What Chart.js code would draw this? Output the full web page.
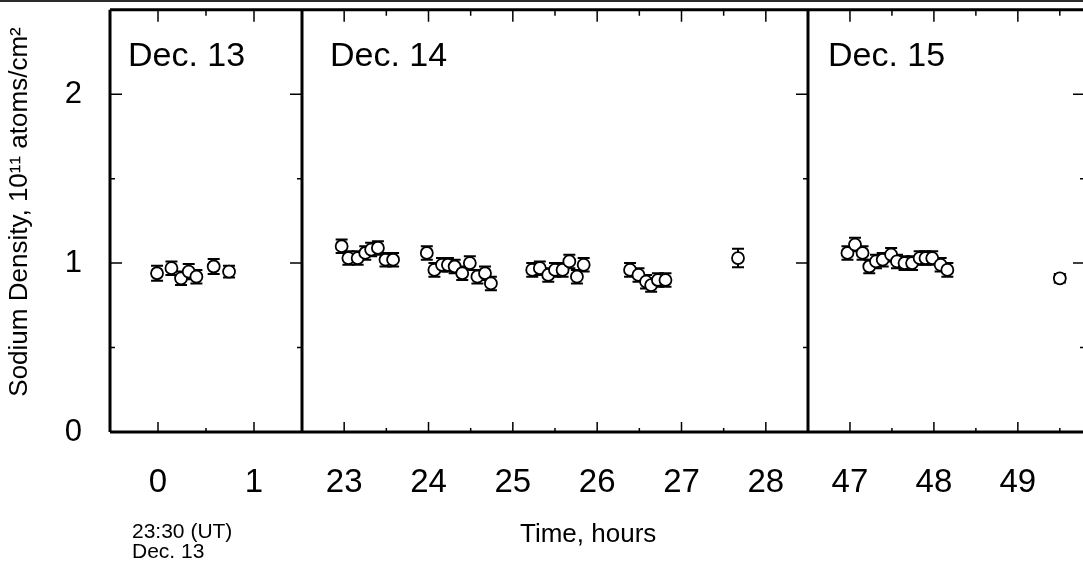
<!DOCTYPE html>
<html>
<head>
<meta charset="utf-8">
<title>Sodium Density</title>
<script src="https://cdn.jsdelivr.net/npm/chart.js@4.4.1/dist/chart.umd.min.js"></script>
<style>
    html, body { margin: 0; padding: 0; background: #fff; overflow: hidden; }
    #wrap { width: 1100px; height: 580px; border-top: 2px solid #2b2b2b; box-sizing: border-box; }
</style>
</head>
<body>
<div id="wrap"><canvas id="densityChart" width="1100" height="578"></canvas></div>
<script>
// Dec. 13 (hours after 23:30 UT, Dec. 13)
const hours13 = [-0.01, 0.14, 0.24, 0.32, 0.40, 0.58, 0.74];
const density13 = [0.94, 0.97, 0.91, 0.95, 0.92, 0.98, 0.95];
const error13 = [0.045, 0.04, 0.04, 0.045, 0.04, 0.045, 0.035];

// Dec. 14
const hours14 = [22.97, 23.05, 23.16, 23.25, 23.32, 23.40, 23.49, 23.58,
    23.98, 24.07, 24.16, 24.23, 24.31, 24.40, 24.49, 24.58, 24.67, 24.74,
    25.23, 25.32, 25.42, 25.50, 25.59, 25.67, 25.76, 25.84,
    26.39, 26.49, 26.58, 26.64, 26.72, 26.81,
    27.67];
const density14 = [1.10, 1.03, 1.03, 1.06, 1.08, 1.09, 1.02, 1.02,
    1.06, 0.96, 0.99, 0.99, 0.98, 0.94, 1.00, 0.92, 0.94, 0.88,
    0.96, 0.97, 0.93, 0.96, 0.96, 1.01, 0.92, 0.99,
    0.96, 0.93, 0.89, 0.87, 0.90, 0.90,
    1.03];
const error14 = [0.04, 0.04, 0.04, 0.04, 0.04, 0.04, 0.04, 0.04,
    0.04, 0.04, 0.04, 0.04, 0.04, 0.04, 0.04, 0.04, 0.04, 0.04,
    0.04, 0.04, 0.04, 0.04, 0.04, 0.04, 0.04, 0.04,
    0.04, 0.04, 0.04, 0.04, 0.04, 0.04,
    0.055];

// Dec. 15
const hours15 = [46.97, 47.06, 47.15, 47.23, 47.31, 47.39, 47.49, 47.56, 47.65, 47.74,
    47.83, 47.90, 47.98, 48.08, 48.16, 49.50];
const density15 = [1.06, 1.11, 1.06, 0.98, 1.01, 1.02, 1.05, 1.01, 1.00, 1.00,
    1.03, 1.03, 1.03, 0.99, 0.96, 0.91];
const error15 = [0.04, 0.04, 0.04, 0.04, 0.04, 0.04, 0.04, 0.04, 0.04, 0.04,
    0.04, 0.04, 0.04, 0.04, 0.04, 0.025];

// Axes
const panelNames = ['Dec. 13', 'Dec. 14', 'Dec. 15'];
const xTicks13 = [0, 1];
const xTicks14 = [23, 24, 25, 26, 27, 28];
const xTicks15 = [47, 48, 49];
const yTicks = [0, 1, 2];

const FONT = "'Liberation Sans', Arial, sans-serif";
Chart.defaults.font.family = FONT;
Chart.defaults.color = '#000';

function makeSet(hours, density, errors, axisId) {
    return {
        type: 'scatter',
        data: hours.map((h, i) => ({ x: h, y: density[i] })),
        errors: errors,
        xAxisID: axisId,
        yAxisID: 'y',
        pointStyle: 'circle',
        pointRadius: 6,
        pointHoverRadius: 6,
        pointBackgroundColor: '#fff',
        pointBorderColor: '#000',
        pointBorderWidth: 1.8,
        showLine: false
    };
}

function xScale(min, max, ticks, weight) {
    return {
        type: 'linear',
        position: 'bottom',
        stack: 'time',
        stackWeight: weight,
        min: min,
        max: max,
        grid: { display: false, drawTicks: false },
        border: { display: false },
        ticks: { padding: 31, font: { size: 33 }, color: '#000' },
        afterBuildTicks: scale => { scale.ticks = ticks.map(v => ({ value: v })); },
        afterFit: scale => {
            scale.height = 148;
            scale.paddingLeft = 0; scale.paddingRight = 0;
            scale.paddingTop = 0; scale.paddingBottom = 0;
        }
    };
}

// Frame with inward tick marks + error bars, drawn under the circles
const framePlugin = {
    id: 'framePlugin',
    beforeDatasetsDraw(chart) {
        const ctx = chart.ctx;
        const area = chart.chartArea;
        const y = chart.scales.y;
        const panels = [
            { s: chart.scales.x1, t: xTicks13 },
            { s: chart.scales.x2, t: xTicks14 },
            { s: chart.scales.x3, t: xTicks15 }
        ];
        ctx.save();
        ctx.strokeStyle = '#000';

        // error bars
        ctx.lineWidth = 2;
        chart.data.datasets.forEach((ds, di) => {
            const meta = chart.getDatasetMeta(di);
            meta.data.forEach((pt, i) => {
                const v = ds.data[i].y;
                const e = ds.errors[i];
                const y1 = y.getPixelForValue(v + e);
                const y2 = y.getPixelForValue(v - e);
                ctx.beginPath();
                ctx.moveTo(pt.x, y1); ctx.lineTo(pt.x, y2);
                ctx.moveTo(pt.x - 6, y1); ctx.lineTo(pt.x + 6, y1);
                ctx.moveTo(pt.x - 6, y2); ctx.lineTo(pt.x + 6, y2);
                ctx.stroke();
            });
        });

        // tick marks
        ctx.lineWidth = 1.5;
        ctx.beginPath();
        panels.forEach((p, idx) => {
            const s = p.s;
            const minors = [];
            p.t.forEach(v => {
                [v - 0.5, v + 0.5].forEach(m => {
                    if (m > s.min && m < s.max && !minors.includes(m)) minors.push(m);
                });
            });
            p.t.forEach(v => {
                const px = s.getPixelForValue(v);
                ctx.moveTo(px, area.top); ctx.lineTo(px, area.top + 12);
                ctx.moveTo(px, area.bottom); ctx.lineTo(px, area.bottom - 10);
            });
            minors.forEach(v => {
                const px = s.getPixelForValue(v);
                ctx.moveTo(px, area.top); ctx.lineTo(px, area.top + 6);
                ctx.moveTo(px, area.bottom); ctx.lineTo(px, area.bottom - 4);
            });
            // y ticks pointing inward from the right edge of each panel
            const sides = idx === 0 ? [[s.left, 1], [s.right, -1]] : [[s.right, -1]];
            sides.forEach(([edge, dir]) => {
                yTicks.forEach(v => {
                    const py = y.getPixelForValue(v);
                    ctx.moveTo(edge, py); ctx.lineTo(edge + dir * 12, py);
                    const pm = y.getPixelForValue(v + 0.5);
                    if (pm > area.top + 1) {
                        ctx.moveTo(edge, pm); ctx.lineTo(edge + dir * 5, pm);
                    }
                });
            });
        });
        ctx.stroke();

        // frame
        ctx.lineWidth = 3;
        ctx.beginPath();
        ctx.moveTo(area.left, area.top); ctx.lineTo(area.right, area.top);
        ctx.moveTo(area.left, area.bottom); ctx.lineTo(area.right, area.bottom);
        panels.forEach(p => {
            ctx.moveTo(p.s.left, area.top); ctx.lineTo(p.s.left, area.bottom);
        });
        ctx.moveTo(area.right, area.top); ctx.lineTo(area.right, area.bottom);
        ctx.stroke();
        ctx.restore();
    },
    afterDraw(chart) {
        const ctx = chart.ctx;
        const area = chart.chartArea;
        const panels = [chart.scales.x1, chart.scales.x2, chart.scales.x3];
        const insets = [18, 28, 20];
        ctx.save();
        ctx.fillStyle = '#000';
        ctx.textBaseline = 'alphabetic';
        ctx.textAlign = 'left';
        ctx.font = '34px ' + FONT;
        panels.forEach((s, i) => ctx.fillText(panelNames[i], s.left + insets[i], area.top + 56));

        ctx.font = '26px ' + FONT;
        ctx.fillText('Time, hours', 520, area.bottom + 110);

        ctx.font = '21px ' + FONT;
        ctx.fillText('23:30 (UT)', 132, area.bottom + 106);
        ctx.fillText('Dec. 13', 132, area.bottom + 126);

        // y axis title
        ctx.translate(27, 210);
        ctx.rotate(-Math.PI / 2);
        ctx.textAlign = 'center';
        ctx.font = '26px ' + FONT;
        ctx.fillText('Sodium Density, 10\u00B9\u00B9 atoms/cm\u00B2', 0, 0);
        ctx.restore();
    }
};

const chart = new Chart(document.getElementById('densityChart'), {
    type: 'scatter',
    data: {
        datasets: [
            makeSet(hours13, density13, error13, 'x1'),
            makeSet(hours14, density14, error14, 'x2'),
            makeSet(hours15, density15, error15, 'x3')
        ]
    },
    options: {
        responsive: false,
        animation: false,
        layout: { padding: { top: 5, right: 15, left: 0, bottom: 0 } },
        plugins: {
            legend: { display: false },
            tooltip: { enabled: false }
        },
        scales: {
            x1: xScale(-0.5, 1.5, xTicks13, 192),
            x2: xScale(22.5, 28.5, xTicks14, 506),
            x3: xScale(46.5, 49.8, xTicks15, 277),
            y: {
                type: 'linear',
                position: 'left',
                min: 0,
                max: 2.5,
                grid: { display: false, drawTicks: false },
                border: { display: false },
                ticks: { padding: 28, font: { size: 31 }, color: '#000' },
                afterBuildTicks: scale => { scale.ticks = yTicks.map(v => ({ value: v })); },
                afterFit: scale => {
                    scale.width = 110;
                    scale.paddingTop = 0; scale.paddingBottom = 0;
                    scale.paddingLeft = 0; scale.paddingRight = 0;
                }
            }
        }
    },
    plugins: [framePlugin]
});
</script>
</body>
</html>
